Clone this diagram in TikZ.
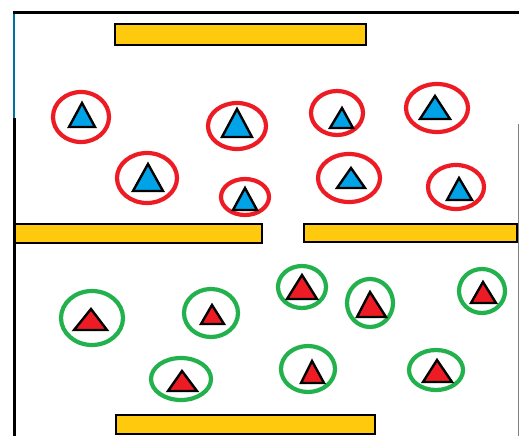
\documentclass[tikz,border=0pt]{standalone}
\begin{document}
\begin{tikzpicture}[x=1pt,y=-1pt,
  bar/.style={draw=black,line width=2.6pt,fill=barYellow},
  ringred/.style={draw=ringRed,line width=4.2pt},
  ringgreen/.style={draw=ringGreen,line width=4.2pt},
  tri/.style={draw=black,line width=2.4pt,line join=miter},
  triblue/.style={tri,fill=triBlue},
  trired/.style={tri,fill=triRed}]
\definecolor{barYellow}{HTML}{FFC90E}
\definecolor{ringRed}{HTML}{ED1C24}
\definecolor{ringGreen}{HTML}{22B14C}
\definecolor{triBlue}{HTML}{00A2E8}
\definecolor{triRed}{HTML}{ED1C24}
\useasboundingbox (0,0) rectangle (519,436);
% frame
\draw[line width=3pt,black] (14,118) -- (14,436);
\draw[line width=1.2pt,triBlue!70!black] (14,13) -- (14,118);
\draw[line width=3pt,black] (13,13) -- (519,13);
\draw[line width=1pt,gray] (518,124) -- (518,436);
% bars
\draw[bar] (115,24) rectangle (366,45);
\draw[bar] (15,224) rectangle (262,243);
\draw[bar] (304,224) rectangle (517,242);
\draw[bar] (116,415) rectangle (375,434);
% red rings with blue triangles
\draw[ringred] (81,117) ellipse [x radius=28, y radius=25];
\draw[triblue] (82,103) -- (95,127) -- (69,127) -- cycle;
\draw[ringred] (237,126) ellipse [x radius=29, y radius=23];
\draw[triblue] (237,109) -- (252,137) -- (222,137) -- cycle;
\draw[ringred] (147,178) ellipse [x radius=30, y radius=25];
\draw[triblue] (148,164) -- (163,191) -- (133,191) -- cycle;
\draw[ringred] (245,197) ellipse [x radius=24, y radius=18];
\draw[triblue] (245,188) -- (257,210) -- (233,210) -- cycle;
\draw[ringred] (337,113) ellipse [x radius=26, y radius=22];
\draw[triblue] (342,108) -- (353,128) -- (330,128) -- cycle;
\draw[ringred] (437,108) ellipse [x radius=31, y radius=24];
\draw[triblue] (435,96) -- (450,119) -- (420,119) -- cycle;
\draw[ringred] (349,178) ellipse [x radius=31, y radius=24];
\draw[triblue] (351,168) -- (365,188) -- (337,188) -- cycle;
\draw[ringred] (456,187) ellipse [x radius=28, y radius=22];
\draw[triblue] (459,178) -- (472,200) -- (447,200) -- cycle;
% green rings with red triangles
\draw[ringgreen] (92,318) ellipse [x radius=31, y radius=27];
\draw[trired] (91,309) -- (107,330) -- (74,330) -- cycle;
\draw[ringgreen] (211,313) ellipse [x radius=27, y radius=24];
\draw[trired] (212,305) -- (224,324) -- (201,324) -- cycle;
\draw[ringgreen] (181,379) ellipse [x radius=30, y radius=21];
\draw[trired] (182,371) -- (197,391) -- (168,391) -- cycle;
\draw[ringgreen] (302,287) ellipse [x radius=24, y radius=21];
\draw[trired] (302,275) -- (317,299) -- (287,299) -- cycle;
\draw[ringgreen] (370,303) ellipse [x radius=23, y radius=24];
\draw[trired] (370,292) -- (386,317) -- (357,317) -- cycle;
\draw[ringgreen] (482,291) ellipse [x radius=23, y radius=22];
\draw[trired] (483,282) -- (496,303) -- (471,303) -- cycle;
\draw[ringgreen] (308,369) ellipse [x radius=27, y radius=23];
\draw[trired] (312,361) -- (324,383) -- (301,383) -- cycle;
\draw[ringgreen] (436,370) ellipse [x radius=27, y radius=20];
\draw[trired] (437,360) -- (452,382) -- (423,382) -- cycle;
\end{tikzpicture}
\end{document}
